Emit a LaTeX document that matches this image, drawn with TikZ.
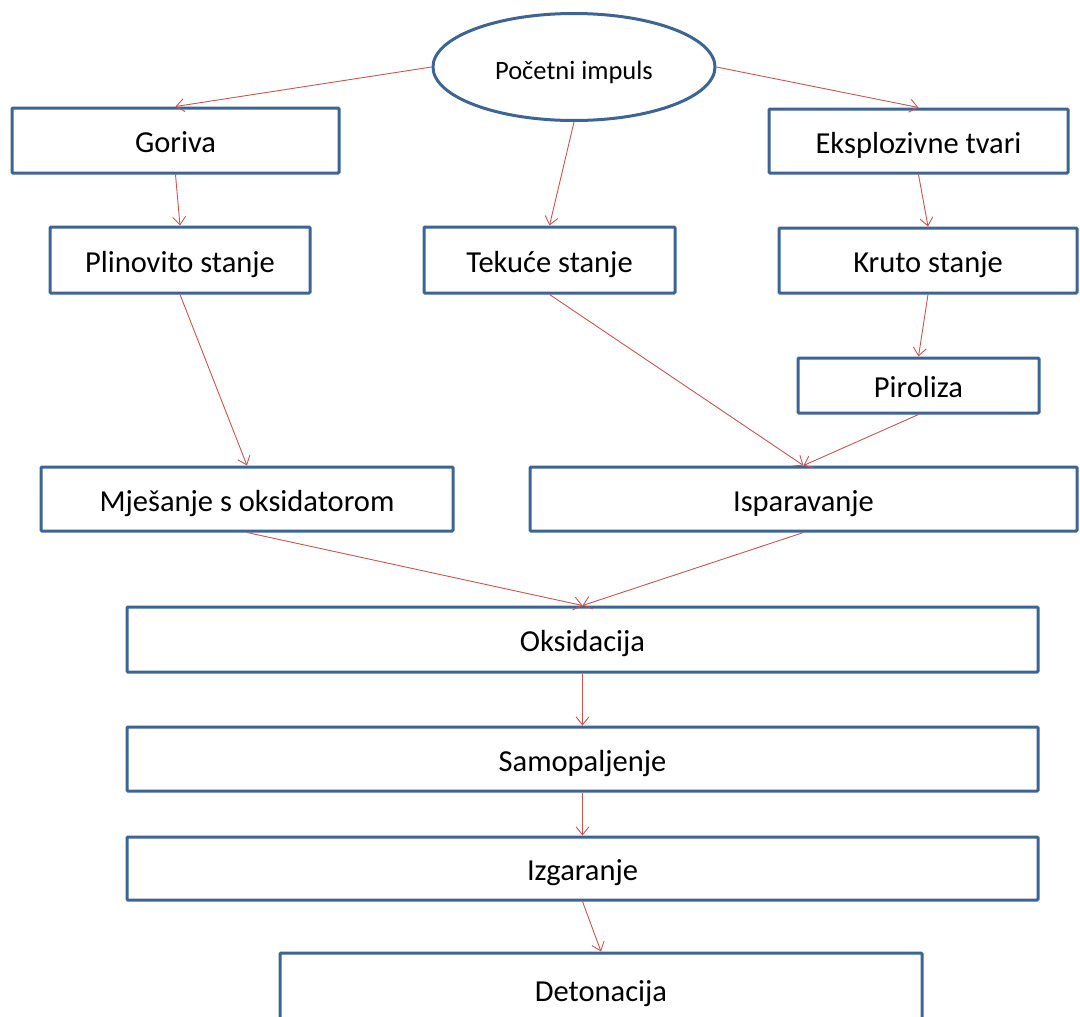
\documentclass[tikz,border=0pt]{standalone}
\usepackage{fontspec}
\setmainfont{Carlito}
\usetikzlibrary{shapes.geometric,arrows.meta}
\definecolor{boxblue}{RGB}{60,100,148}
\definecolor{arrred}{RGB}{200,85,82}
\tikzset{
  stepbox/.style={draw=boxblue, line width=3pt, rounded corners=1pt, fill=white,
    font=\fontsize{30.5}{36}\selectfont, inner sep=0pt, text height=27pt, text depth=3pt},
  conn/.style={draw=arrred, line width=0.9pt, -{Straight Barb[length=8pt,width=13pt]}}
}
\begin{document}
\begin{tikzpicture}[x=1pt,y=-1pt]
\useasboundingbox (0,0) rectangle (1080,1017);
\clip (0,0) rectangle (1080,1017);
\node[ellipse, draw=boxblue, line width=3pt, minimum width=282, minimum height=107, inner sep=0pt,
  font=\fontsize{26.5}{31}\selectfont, text height=25pt, text depth=0pt] (ell) at (574,67) {Početni impuls};
\node[stepbox, minimum width=327, minimum height=65] (goriva) at (175.5,140.5) {Goriva};
\node[stepbox, minimum width=299, minimum height=64] (ekspl) at (918.5,141) {Eksplozivne tvari};
\node[stepbox, minimum width=260, minimum height=66] (plin) at (180,260) {Plinovito stanje};
\node[stepbox, minimum width=251, minimum height=66] (tek) at (549.5,260) {Tekuće stanje};
\node[stepbox, minimum width=298, minimum height=65] (kruto) at (928,260.5) {Kruto stanje};
\node[stepbox, minimum width=241, minimum height=55] (piro) at (918.5,385.5) {Piroliza};
\node[stepbox, minimum width=412, minimum height=64] (mje) at (247,499) {Mješanje s oksidatorom};
\node[stepbox, minimum width=547, minimum height=64] (ispar) at (803.5,499) {Isparavanje};
\node[stepbox, minimum width=911, minimum height=65] (oks) at (582.5,639.5) {Oksidacija};
\node[stepbox, minimum width=911, minimum height=64] (samo) at (582.5,759) {Samopaljenje};
\node[stepbox, minimum width=911, minimum height=63] (izg) at (582.5,868.5) {Izgaranje};
\node[stepbox, minimum width=642, minimum height=72] (det) at (601,989) {Detonacija};

\draw[conn] (ell.west) -- (goriva.north);
\draw[conn] (ell.south) -- (tek.north);
\draw[conn] (ell.east) -- (ekspl.north);
\draw[conn] (goriva.south) -- (plin.north);
\draw[conn] (ekspl.south) -- (kruto.north);
\draw[conn] (plin.south) -- (mje.north);
\draw[conn] (tek.south) -- (ispar.north);
\draw[conn] (kruto.south) -- (piro.north);
\draw[conn] (piro.south) -- (ispar.north);
\draw[conn] (mje.south) -- (oks.north);
\draw[conn] (ispar.south) -- (oks.north);
\draw[conn] (oks.south) -- (samo.north);
\draw[conn] (samo.south) -- (izg.north);
\draw[conn] (izg.south) -- (det.north);
\end{tikzpicture}
\end{document}
